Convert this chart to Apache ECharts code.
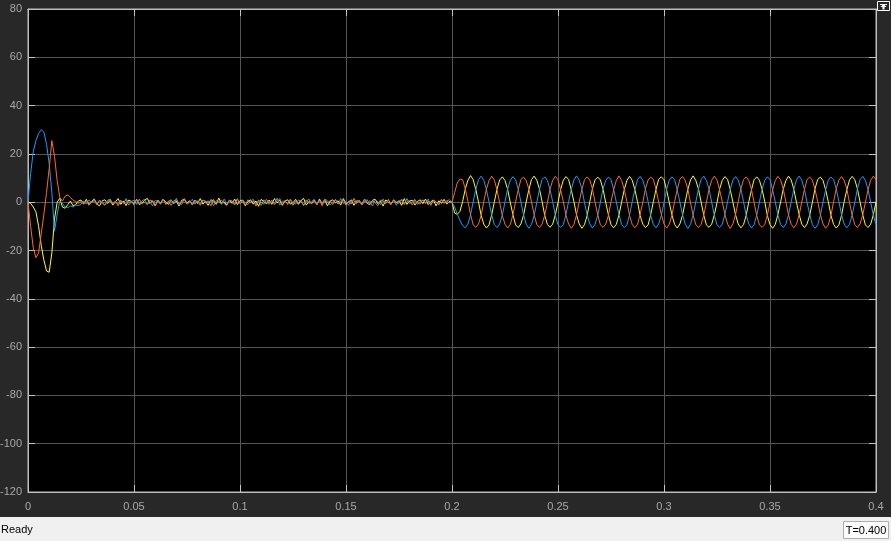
<!DOCTYPE html>
<html>
<head>
<meta charset="utf-8">
<script src="https://cdn.jsdelivr.net/npm/echarts@6/dist/echarts.min.js"></script>
<style>
html,body{margin:0;padding:0;background:#282828;}
#chart{width:891px;height:541px;}
</style>
</head>
<body>
<div id="chart"></div>
<script>
// Time axis sampling of the recorded signals (seconds)
const sampleStep = 0.00125;
const xTickLabels = ['0','0.05','0.1','0.15','0.2','0.25','0.3','0.35','0.4'];
const yTickLabels = ['-120','-100','-80','-60','-40','-20','0','20','40','60','80'];
const seriesNames = ['Phase A','Phase B','Phase C'];

const yellowVals = [
0,-0.5,-2,-4,-10,-18,-24,-28.5,-29,-21,-7,0,1.6,-2,-2.5,-1,0.5,
-1.5,-1.0,0.5,0.9,-0.6,1.2,-1.0,0.3,1.4,-0.8,-1.5,0.6,
1.0,-0.5,0.8,-1.2,0.2,1.5,-0.9,0.5,-1.4,0.9,0.3,-0.6,
1.2,-1.0,-0.3,0.8,1.6,-0.5,0.6,-1.5,0.9,-0.8,1.3,0.0,
-0.9,1.0,-0.6,0.5,-1.6,0.8,1.2,-0.3,0.6,-1.0,0.9,-0.5,
1.5,-0.8,0.3,-1.3,1.0,0.5,-0.9,1.7,-0.6,0.2,-1.2,0.8,
-0.5,1.3,-1.0,0.6,0.9,-1.5,0.3,1.0,-0.8,0.5,-1.7,1.2,
0.2,-0.6,0.9,-0.9,1.5,-0.3,0.8,-1.3,0.5,1.0,-0.8,-0.2,
1.2,-0.9,0.6,1.6,-1.2,0.3,-0.5,0.9,-1.0,1.3,-0.6,0.8,
-1.5,0.5,1.0,-0.3,0.6,-1.2,1.5,-0.8,0.2,0.9,-1.3,0.6,
0.3,-0.9,1.3,-0.5,-1.0,0.8,1.2,-0.6,0.5,-1.6,0.9,0.0,
-0.8,1.0,-0.3,0.6,-1.3,1.5,-0.9,0.5,0.8,-1.2,0.3,1.0,
-0.6,1.3,-1.0,0.2,0.9,-1.5,0.6,-0.5,1.2,-0.8,0.3,
0,-4.5,-5,-3.8,0.2,5.4,9.1,11.0,9.3,5.2,0.1,-5.4,
-9.1,-10.7,-9.3,-5.1,0.2,5.5,9.2,10.5,9.0,5.3,-0.2,-5.2,
-9.4,-10.5,-9.0,-5.4,0.1,5.2,9.4,10.8,9.1,5.5,0.2,-5.5,
-9.2,-10.4,-9.1,-5.2,-0.1,5.3,9.1,10.6,9.4,5.1,0.3,-5.3,
-9.0,-10.8,-9.3,-5.5,0.2,5.6,9.3,10.4,9.2,5.4,-0.1,-5.1,
-9.3,-10.6,-9.2,-5.3,0.0,5.2,9.0,10.7,9.1,5.3,0.2,-5.6,
-9.1,-10.5,-9.4,-5.1,0.3,5.4,9.5,10.5,9.3,5.0,-0.2,-5.3,
-9.2,-10.7,-9.0,-5.4,0.1,5.3,9.2,10.9,9.0,5.5,0.1,-5.4,
-9.4,-10.4,-9.1,-5.2,-0.2,5.5,9.1,10.6,9.4,5.2,0.0,-5.2,
-9.0,-10.6,-9.3,-5.5,0.2,5.1,9.3,10.5,9.1,5.4,0.3,-5.5,
-9.3,-10.8,-9.2,-5.0,0.1,5.4,9.0,10.8,9.2,5.3,-0.1,-5.1,
-9.1,-10.5,-9.0,-5.3,0.0,5.6,9.4,10.4,9.0,5.1,0.2,-5.4,
-9.2,-10.7,-9.4,-5.4,0.3,5.2,9.2,10.7,9.3,5.5,0.0,-5.3,
-9.4,-10.5,-9.1,-5.2,0.1
];

const blueVals = [
0,12,21,25.5,28.5,30,29,24,16,4,-12,-5,0.5,-0.5,-2,-2.2,-1.5,
-2.0,-1.2,-1.4,-0.9,0.5,-0.8,0.9,-0.3,1.2,-0.9,0.6,0.2,
-1.2,0.8,1.3,-0.5,0.3,-1.0,0.9,-0.6,1.5,-0.2,0.5,-1.3,
1.0,-0.8,0.6,1.2,-0.9,0.3,-1.5,0.8,0.2,-0.5,1.3,-1.0,
0.5,0.9,-0.6,1.6,-1.2,0.3,0.8,-0.9,0.0,1.2,-0.8,0.6,
-1.3,0.9,0.5,-0.3,1.0,-1.5,0.6,0.2,-0.9,1.3,-0.5,0.8,
0.3,-1.2,1.5,-0.6,0.9,-0.2,-1.0,0.5,1.2,-0.8,0.6,-1.3,
1.0,0.0,-0.9,0.8,-0.5,1.7,-1.2,0.3,0.6,-1.0,1.3,-0.3,
-0.8,0.9,0.5,-1.5,1.0,-0.6,0.2,1.2,-0.9,0.8,-0.3,1.3,
0.6,-1.2,0.3,0.9,-0.8,1.5,-0.5,0.2,-1.3,1.0,0.5,-0.6,
0.8,-0.9,1.2,-0.2,0.6,-1.6,0.9,0.3,-1.0,1.3,-0.5,0.8,
-0.3,1.0,-1.3,0.5,0.9,-0.8,1.5,-0.6,0.2,1.2,-0.9,0.3,
0.8,-0.5,1.3,-1.0,0.6,0.2,-1.2,0.9,-0.3,0.5,1.0,
0,-2,-5,-7.5,-9.6,-10.6,-9.1,-5.2,0.2,5.4,9.3,10.8,
9.1,5.2,-0.1,-5.4,-9.3,-10.5,-9.0,-5.3,0.2,5.5,9.1,10.6,
9.3,5.4,0.1,-5.2,-9.1,-10.8,-9.2,-5.5,-0.1,5.2,9.4,10.5,
9.0,5.1,0.2,-5.5,-9.4,-10.4,-9.3,-5.1,0.3,5.3,9.2,10.9,
9.2,5.5,-0.2,-5.3,-9.0,-10.7,-9.1,-5.4,0.0,5.6,9.0,10.4,
9.4,5.2,0.1,-5.1,-9.2,-10.5,-9.4,-5.2,0.2,5.1,9.3,10.7,
9.1,5.3,0.3,-5.6,-9.3,-10.6,-9.0,-5.5,-0.2,5.4,9.1,10.5,
9.3,5.0,0.0,-5.2,-9.1,-10.9,-9.2,-5.3,0.1,5.5,9.4,10.8,
9.0,5.4,-0.1,-5.4,-9.4,-10.4,-9.1,-5.0,0.3,5.2,9.2,10.6,
9.2,5.6,0.2,-5.3,-9.0,-10.7,-9.3,-5.4,0.0,5.3,9.0,10.5,
9.4,5.1,0.1,-5.5,-9.2,-10.5,-9.0,-5.2,0.2,5.4,9.3,10.8,
9.1,5.3,-0.2,-5.1,-9.3,-10.8,-9.4,-5.5,0.1,5.1,9.1,10.4,
9.3,5.5,0.3,-5.2,-9.1,-10.6,-9.2,-5.3,-0.1,5.6,9.4,10.7,
9.0,5.2,0.0,-5.4,-9.3
];

const orangeVals = [
0,-10,-19,-23,-21,-13,-5,4,14,25.5,19,9,2,0.5,2.5,3,2,
0.8,0.3,-0.6,0.3,-0.9,0.8,-1.3,0.2,0.6,-1.0,0.9,-0.5,
-1.2,0.3,1.0,-0.8,0.5,-1.5,0.6,-0.3,0.9,-1.2,0.2,0.8,
-0.9,1.3,-0.6,0.0,-1.0,0.9,0.5,-1.6,0.8,-0.3,1.2,-0.8,
0.3,-1.3,0.6,1.0,-0.5,-0.9,1.5,-0.6,0.5,-1.2,0.8,0.2,
-1.0,0.9,-0.3,0.6,-1.5,1.2,-0.8,0.3,0.9,-0.5,-1.3,0.8,
0.5,-0.9,1.3,-0.6,0.2,-1.2,1.0,-0.3,0.6,-1.6,0.9,0.0,
-0.8,1.2,-0.5,0.8,-1.0,0.3,1.5,-0.9,0.5,-0.6,1.0,-1.3,
0.6,-0.2,0.9,-1.2,0.3,1.3,-0.8,0.5,-0.9,0.8,-1.5,1.0,
-0.3,0.6,-1.0,1.2,-0.6,0.2,0.9,-1.3,0.5,-0.8,1.6,-0.5,
0.8,-1.2,0.3,1.0,-0.9,0.6,-0.2,-1.5,0.9,0.5,-0.6,1.2,
-1.0,0.8,0.2,-0.5,1.3,-0.9,0.3,0.6,-1.2,0.9,-0.3,-0.8,
1.0,-0.6,0.5,-1.3,0.8,0.2,-0.9,1.2,-0.5,0.6,-0.3,
0,4,8,9.6,9.3,5.6,0.4,-5.1,-9.4,-10.4,-9.0,-5.5,
0.3,5.5,9.0,10.8,9.1,5.0,-0.2,-5.6,-9.1,-10.7,-9.3,-5.1,
0.2,5.2,9.4,10.4,9.0,5.4,0.1,-5.2,-9.3,-10.5,-9.0,-5.4,
-0.2,5.4,9.1,10.7,9.3,5.1,0.3,-5.4,-9.0,-10.8,-9.2,-5.2,
0.1,5.3,9.3,10.5,9.2,5.5,-0.1,-5.3,-9.4,-10.4,-9.1,-5.6,
0.2,5.1,9.0,10.9,9.0,5.3,0.2,-5.5,-9.2,-10.6,-9.3,-5.0,
-0.1,5.6,9.2,10.4,9.4,5.2,0.0,-5.1,-9.0,-10.7,-9.1,-5.3,
0.3,5.2,9.5,10.6,9.1,5.4,-0.3,-5.4,-9.3,-10.5,-9.2,-5.5,
0.0,5.4,9.1,10.8,9.2,5.0,0.2,-5.2,-9.1,-10.9,-9.0,-5.1,
0.2,5.5,9.3,10.5,9.0,5.3,-0.1,-5.6,-9.4,-10.4,-9.3,-5.4,
-0.2,5.1,9.0,10.7,9.3,5.5,0.1,-5.3,-9.2,-10.6,-9.1,-5.2,
0.1,5.3,9.4,10.4,9.1,5.2,0.3,-5.0,-9.0,-10.8,-9.4,-5.5,
0.2,5.6,9.2,10.6,9.0,5.4,-0.2,-5.4,-9.3,-10.5,-9.0,-5.3,
0.0,5.2,9.1,10.8,9.3
];

function toPairs(vals){ return vals.map((v,i)=>[i*sampleStep, v]); }

const chart = echarts.init(document.getElementById('chart'));
const fontFamily = 'Liberation Sans, Arial, sans-serif';
function labelFont(extra){ return Object.assign({color:'#a8a8a8', fontSize:11, fontFamily:fontFamily, inside:false}, extra); }
function tickStyle(){ return {show:true, inside:true, length:7, lineStyle:{color:'#c4c4c4', width:1}}; }
function axisLineStyle(){ return {show:true, onZero:false, lineStyle:{color:'#bdbdbd', width:1}}; }

chart.setOption({
  animation:false,
  backgroundColor:'#282828',
  grid:{left:28, top:9, width:848, height:483, containLabel:false, outerBoundsMode:'none',
        show:true, backgroundColor:'#000000', borderColor:'#bdbdbd', borderWidth:1},
  xAxis:[{
    type:'value', min:0, max:0.4, interval:0.05, position:'bottom',
    axisLine:axisLineStyle(), axisTick:tickStyle(),
    splitLine:{show:true, lineStyle:{color:'#555555', width:1}},
    axisLabel:labelFont({margin:9, formatter:v=>xTickLabels[Math.round(v/0.05)]})
  },{
    type:'value', min:0, max:0.4, interval:0.05, position:'top',
    axisLine:axisLineStyle(), axisTick:tickStyle(), splitLine:{show:false}, axisLabel:{show:false}
  }],
  yAxis:[{
    type:'value', min:-120, max:80, interval:20, position:'left',
    axisLine:axisLineStyle(), axisTick:tickStyle(),
    splitLine:{show:true, lineStyle:{color:'#555555', width:1}},
    axisLabel:labelFont({margin:6, formatter:v=>yTickLabels[Math.round((v+120)/20)]})
  },{
    type:'value', min:-120, max:80, interval:20, position:'right',
    axisLine:axisLineStyle(), axisTick:tickStyle(), splitLine:{show:false}, axisLabel:{show:false}
  }],
  series:[
    {name:seriesNames[0], type:'line', showSymbol:false, data:toPairs(yellowVals), lineStyle:{color:'#ffff11', width:1}, itemStyle:{color:'#ffff11'}},
    {name:seriesNames[1], type:'line', showSymbol:false, data:toPairs(blueVals), lineStyle:{color:'#139fff', width:1}, itemStyle:{color:'#139fff'}},
    {name:seriesNames[2], type:'line', showSymbol:false, data:toPairs(orangeVals), lineStyle:{color:'#ff6929', width:1}, itemStyle:{color:'#ff6929'}}
  ],
  graphic:[
    {type:'rect', shape:{x:0,y:517,width:891,height:24}, style:{fill:'#f0f0f0'}, silent:true},
    {type:'text', x:1, y:530, style:{text:'Ready', fill:'#000', font:'11px Liberation Sans, Arial, sans-serif', verticalAlign:'middle', textAlign:'left'}},
    {type:'rect', shape:{x:843.5,y:521.5,width:45,height:17}, style:{fill:'#fbfbfb', stroke:'#adadad', lineWidth:1}},
    {type:'text', x:866, y:530.5, style:{text:'T=0.400', fill:'#000', font:'11px Liberation Sans, Arial, sans-serif', verticalAlign:'middle', textAlign:'center'}},
    {type:'rect', shape:{x:877.5,y:1.5,width:12,height:9}, style:{fill:'none', stroke:'#ffffff', lineWidth:1}},
    {type:'polygon', shape:{points:[[880,4],[887,4],[887,5],[884.5,5],[886.5,7],[884.5,7],[884.5,9.5],[882.5,9.5],[882.5,7],[880.5,7],[882.5,5],[880,5]]}, style:{fill:'#ffffff'}}
  ]
});
</script>
</body>
</html>
